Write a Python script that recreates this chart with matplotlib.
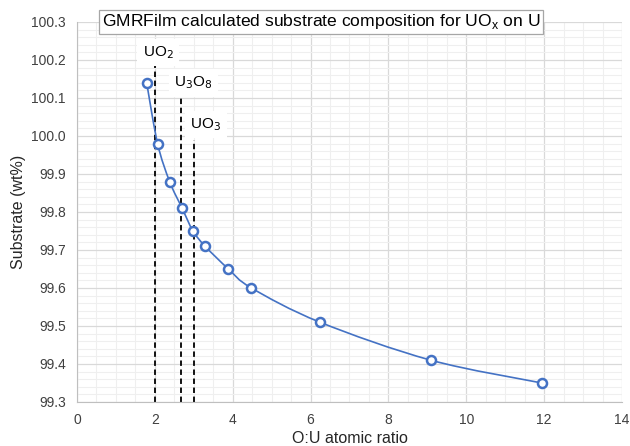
import matplotlib
matplotlib.use('Agg')
import matplotlib.pyplot as plt
import numpy as np
from matplotlib.path import Path
from matplotlib.patches import PathPatch
from matplotlib.ticker import MultipleLocator, FormatStrFormatter

plt.rcParams['font.family'] = ['Liberation Sans', 'DejaVu Sans']

# data
ou_ratio = [1.79, 2.07, 2.38, 2.70, 2.98, 3.29, 3.89, 4.48, 6.24, 9.09, 11.94]
substrate = [100.14, 99.98, 99.88, 99.81, 99.75, 99.71, 99.65, 99.60, 99.51, 99.41, 99.35]

phase_names = ['UO$_2$', 'U$_3$O$_8$', 'UO$_3$']
phase_ratio = [2.0, 8 / 3, 3.0]
phase_top = [100.195, 100.10, 99.99]
label_pos = [(2.08, 100.22), (2.99, 100.14), (3.31, 100.03)]

blue = '#4472C4'

fig = plt.figure(figsize=(6.3, 4.46), dpi=100)
ax = fig.add_axes([0.1222, 0.0987, 0.8651, 0.8520])

# smoothed line (Catmull-Rom style, like a spreadsheet "smooth line")
pts = np.column_stack([ou_ratio, substrate])
ext = np.vstack([pts[0], pts, pts[-1]])
verts = [tuple(pts[0])]
codes = [Path.MOVETO]
for i in range(1, len(ext) - 2):
    p0, p1, p2, p3 = ext[i - 1], ext[i], ext[i + 1], ext[i + 2]
    c1 = p1 + (p2 - p0) / 6
    c2 = p2 - (p3 - p1) / 6
    verts += [tuple(c1), tuple(c2), tuple(p2)]
    codes += [Path.CURVE4] * 3
ax.add_patch(PathPatch(Path(verts, codes), fc='none', ec=blue, lw=1.2, zorder=3))
ax.plot(ou_ratio, substrate, ls='none', marker='o', ms=6.5, mfc='white',
        mec=blue, mew=1.8, zorder=4)

# phase markers
for name, xr, top, (lx, ly) in zip(phase_names, phase_ratio, phase_top, label_pos):
    ax.plot([xr, xr], [99.3, top], color='black', ls=(0, (3, 2)), lw=1.3, zorder=2)
    ax.text(lx, ly, name, ha='center', va='center', fontsize=11, zorder=5,
            bbox=dict(fc='white', ec='none', pad=4))

ax.set_xlim(0, 14)
ax.set_ylim(99.3, 100.3)
ax.xaxis.set_major_locator(MultipleLocator(2))
ax.xaxis.set_minor_locator(MultipleLocator(0.5))
ax.yaxis.set_major_locator(MultipleLocator(0.1))
ax.yaxis.set_minor_locator(MultipleLocator(0.02))
ax.yaxis.set_major_formatter(FormatStrFormatter('%.1f'))
ax.grid(which='major', color='#d9d9d9', lw=0.9)
ax.grid(which='minor', color='#efefef', lw=0.8)
ax.set_axisbelow(True)
ax.tick_params(which='both', length=0, labelsize=10, colors='#404040', pad=8)
for s in ['top', 'right']:
    ax.spines[s].set_visible(False)
for s in ['left', 'bottom']:
    ax.spines[s].set_color('#bfbfbf')

ax.set_xlabel('O:U atomic ratio', fontsize=11.5, color='#262626', labelpad=3)
ax.set_ylabel('Substrate (wt%)', fontsize=11.5, color='#262626', labelpad=4)

fig.text(0.51, 0.951, 'GMRFilm calculated substrate composition for UO$_\\mathregular{x}$ on U',
         ha='center', va='center', fontsize=12.6, zorder=10,
         bbox=dict(fc='white', ec='#a6a6a6', lw=0.9, pad=2))

fig.savefig('out.png', dpi=100)
